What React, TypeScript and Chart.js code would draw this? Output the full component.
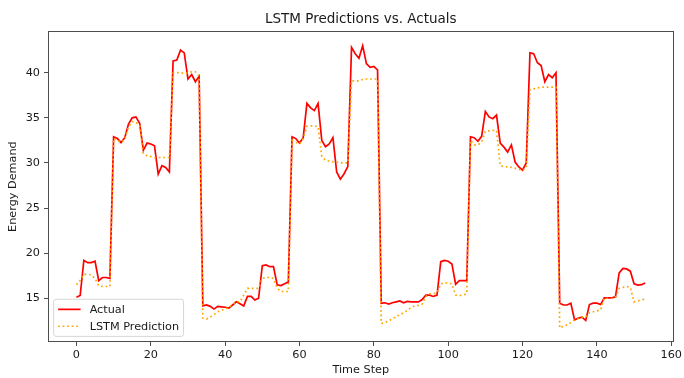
import React, { useEffect, useRef } from 'react';
import { Chart, registerables } from 'chart.js';

Chart.register(...registerables);

const TITLE = 'LSTM Predictions vs. Actuals';
const X_LABEL = 'Time Step';
const Y_LABEL = 'Energy Demand';

const xTicks = [0, 20, 40, 60, 80, 100, 120, 140, 160];
const yTicks = [15, 20, 25, 30, 35, 40];

const actual = [
  15.1, 15.3, 19.2, 18.95, 18.95, 19.1, 16.95, 17.3, 17.3, 17.2,
  32.9, 32.7, 32.25, 32.8, 34.3, 35.0, 35.1, 34.4, 31.4, 32.2,
  32.1, 31.9, 28.75, 29.7, 29.5, 29.0, 41.3, 41.4, 42.5, 42.2,
  39.3, 39.8, 39.0, 39.6, 14.15, 14.25, 14.1, 13.8, 14.1, 14.05,
  14.0, 13.9, 14.25, 14.6, 14.4, 14.15, 15.2, 15.2, 14.8, 15.0,
  18.6, 18.7, 18.5, 18.5, 16.5, 16.4, 16.6, 16.8, 32.9, 32.7,
  32.2, 32.8, 36.6, 36.1, 35.8, 36.6, 32.5, 31.8, 32.1, 32.8,
  29.0, 28.2, 28.8, 29.6, 42.8, 42.1, 41.6, 43.0, 41.0, 40.6,
  40.7, 40.3, 14.45, 14.5, 14.35, 14.5, 14.6, 14.7, 14.5, 14.65,
  14.6, 14.6, 14.6, 14.85, 15.35, 15.35, 15.2, 15.35, 19.05, 19.2,
  19.1, 18.8, 16.55, 16.95, 16.95, 16.95, 32.9, 32.8, 32.4, 32.95,
  35.7, 35.1, 34.9, 35.3, 32.2, 31.75, 31.2, 32.0, 30.1, 29.55,
  29.2, 30.0, 42.2, 42.1, 41.1, 40.8, 39.0, 39.8, 39.45, 40.0,
  14.45, 14.25, 14.25, 14.45, 12.6, 12.8, 12.9, 12.55, 14.3, 14.45,
  14.45, 14.3, 15.05, 15.05, 15.05, 15.15, 17.8, 18.3, 18.25, 18.0,
  16.6, 16.45, 16.5, 16.7,
];

const prediction = [
  16.5, 17.0, 17.65, 17.65, 17.6, 17.2, 16.4, 16.3, 16.3, 16.3,
  32.7, 32.5, 32.3, 32.6, 34.0, 34.6, 34.5, 34.2, 31.0, 30.8,
  30.7, 30.6, 30.6, 30.6, 30.6, 30.6, 39.95, 40.0, 40.0, 39.9,
  40.0, 40.1, 40.1, 39.6, 12.8, 12.7, 12.9, 13.2, 13.5, 13.65,
  13.85, 13.95, 14.35, 14.6, 14.6, 15.35, 16.1, 16.1, 16.1, 16.1,
  17.2, 17.3, 17.3, 17.2, 16.1, 15.75, 15.75, 15.75, 32.5, 32.3,
  32.1, 32.7, 34.05, 34.1, 34.1, 34.0, 30.7, 30.3, 30.2, 30.1,
  30.1, 30.0, 30.0, 30.0, 39.1, 39.1, 39.1, 39.25, 39.3, 39.3,
  39.3, 39.3, 12.2, 12.3, 12.5, 12.7, 13.0, 13.15, 13.4, 13.65,
  13.95, 14.15, 14.2, 14.35, 15.2, 15.5, 15.5, 15.6, 16.6, 16.7,
  16.7, 16.6, 15.35, 15.3, 15.35, 15.5, 32.5, 32.0, 32.0, 32.3,
  33.5, 33.55, 33.6, 33.6, 29.7, 29.6, 29.55, 29.5, 29.4, 29.3,
  29.15, 29.5, 38.1, 38.2, 38.3, 38.4, 38.4, 38.4, 38.4, 38.4,
  11.7, 11.9, 12.05, 12.3, 12.6, 12.75, 12.9, 12.9, 13.4, 13.5,
  13.6, 13.7, 15.0, 15.0, 15.0, 15.1, 16.1, 16.2, 16.3, 16.2,
  14.6, 14.7, 14.8, 14.95,
];

const FONT = '"DejaVu Sans", sans-serif';
const TEXT = '#1a1a1a';
const SPINE = '#4d4d4d';

const framePlugin = {
  id: 'mplFrame',
  afterDraw(chart: any) {
    const { ctx, chartArea } = chart;
    ctx.save();
    ctx.strokeStyle = SPINE;
    ctx.lineWidth = 1;
    ctx.strokeRect(
      Math.round(chartArea.left) + 0.5,
      Math.round(chartArea.top) + 0.5,
      Math.round(chartArea.right - chartArea.left) - 1,
      Math.round(chartArea.bottom - chartArea.top) - 1
    );
    ctx.restore();
  },
};

const legendPlugin = {
  id: 'mplLegend',
  afterDraw(chart: any) {
    const { ctx, chartArea } = chart;
    const fs = 11.25;
    ctx.save();
    ctx.font = `${fs}px ${FONT}`;
    const items = chart.data.datasets.map((ds: any) => ({
      label: ds.label,
      color: ds.borderColor,
      dash: ds.borderDash || [],
      width: ds.borderWidth,
    }));
    const textW = Math.max(...items.map((i: any) => ctx.measureText(i.label).width));
    const pad = 0.4 * fs;
    const handleLen = 2 * fs;
    const handleGap = 0.8 * fs;
    const rowH = fs;
    const spacing = 0.5 * fs;
    const axPad = 0.5 * fs;
    const w = pad + handleLen + handleGap + textW + pad;
    const h = pad * 2 + rowH * items.length + spacing * (items.length - 1);
    const x = chartArea.left + axPad;
    const y = chartArea.bottom - axPad - h;
    const r = 2.5;
    ctx.beginPath();
    ctx.moveTo(x + r, y);
    ctx.lineTo(x + w - r, y);
    ctx.quadraticCurveTo(x + w, y, x + w, y + r);
    ctx.lineTo(x + w, y + h - r);
    ctx.quadraticCurveTo(x + w, y + h, x + w - r, y + h);
    ctx.lineTo(x + r, y + h);
    ctx.quadraticCurveTo(x, y + h, x, y + h - r);
    ctx.lineTo(x, y + r);
    ctx.quadraticCurveTo(x, y, x + r, y);
    ctx.closePath();
    ctx.fillStyle = 'rgba(255,255,255,0.8)';
    ctx.fill();
    ctx.strokeStyle = '#d6d6d6';
    ctx.lineWidth = 1;
    ctx.stroke();
    items.forEach((it: any, i: number) => {
      const cy = y + pad + rowH / 2 + i * (rowH + spacing);
      ctx.beginPath();
      ctx.setLineDash(it.dash);
      ctx.strokeStyle = it.color;
      ctx.lineWidth = it.width;
      ctx.moveTo(x + pad, cy);
      ctx.lineTo(x + pad + handleLen, cy);
      ctx.stroke();
      ctx.setLineDash([]);
      ctx.fillStyle = TEXT;
      ctx.textBaseline = 'middle';
      ctx.textAlign = 'left';
      ctx.fillText(it.label, x + pad + handleLen + handleGap, cy + 0.5);
    });
    ctx.restore();
  },
};

export default function App() {
  const canvasRef = useRef<HTMLCanvasElement | null>(null);

  useEffect(() => {
    const canvas = canvasRef.current;
    if (!canvas) return;
    const steps = actual.map((_, i) => i);
    const chart = new Chart(canvas, {
      type: 'line',
      data: {
        datasets: [
          {
            label: 'Actual',
            data: steps.map((s, i) => ({ x: s, y: actual[i] })),
            borderColor: '#ff0000',
            borderWidth: 1.7,
            pointRadius: 0,
            fill: false,
            tension: 0,
            order: 2,
          },
          {
            label: 'LSTM Prediction',
            data: steps.map((s, i) => ({ x: s, y: prediction[i] })),
            borderColor: '#ffa500',
            borderWidth: 1.7,
            borderDash: [1.7, 2.8],
            pointRadius: 0,
            fill: false,
            tension: 0,
            order: 1,
          },
        ],
      },
      options: {
        responsive: false,
        animation: false,
        devicePixelRatio: 1,
        layout: { padding: { left: 0, right: 8, top: 0, bottom: 0 } },
        plugins: {
          legend: { display: false },
          tooltip: { enabled: false },
          title: {
            display: true,
            text: TITLE,
            color: TEXT,
            fullSize: false,
            font: { family: FONT, size: 13.5, weight: 'normal' },
            padding: { top: 11, bottom: 4 },
          },
        },
        scales: {
          x: {
            type: 'linear',
            min: -7.65,
            max: 160.65,
            afterBuildTicks: (s: any) => {
              s.ticks = xTicks.map((v) => ({ value: v }));
            },
            afterFit: (s: any) => {
              s.height = 36;
            },
            grid: {
              display: true,
              drawOnChartArea: false,
              drawTicks: true,
              tickLength: 4,
              color: SPINE,
            },
            border: { display: false },
            ticks: {
              color: TEXT,
              font: { family: FONT, size: 11.25 },
              padding: 2,
              maxRotation: 0,
              autoSkip: false,
            },
            title: {
              display: true,
              text: X_LABEL,
              color: TEXT,
              font: { family: FONT, size: 11.25 },
              padding: { top: 0, bottom: 1 },
            },
          },
          y: {
            type: 'linear',
            min: 10.15,
            max: 44.6,
            afterBuildTicks: (s: any) => {
              s.ticks = yTicks.map((v) => ({ value: v }));
            },
            afterFit: (s: any) => {
              s.width = 48;
            },
            grid: {
              display: true,
              drawOnChartArea: false,
              drawTicks: true,
              tickLength: 4,
              color: SPINE,
            },
            border: { display: false },
            ticks: {
              color: TEXT,
              font: { family: FONT, size: 11.25 },
              padding: 4,
              autoSkip: false,
            },
            title: {
              display: true,
              text: Y_LABEL,
              color: TEXT,
              font: { family: FONT, size: 11.25 },
              padding: { top: 6.5, bottom: 0 },
            },
          },
        },
      },
      plugins: [framePlugin, legendPlugin],
    } as any);
    return () => chart.destroy();
  }, []);

  return (
    <div style={{ position: 'absolute', left: 0, top: 0, width: 684, height: 378, background: '#fff' }}>
      <canvas ref={canvasRef} width={684} height={378} style={{ display: 'block' }} />
    </div>
  );
}
